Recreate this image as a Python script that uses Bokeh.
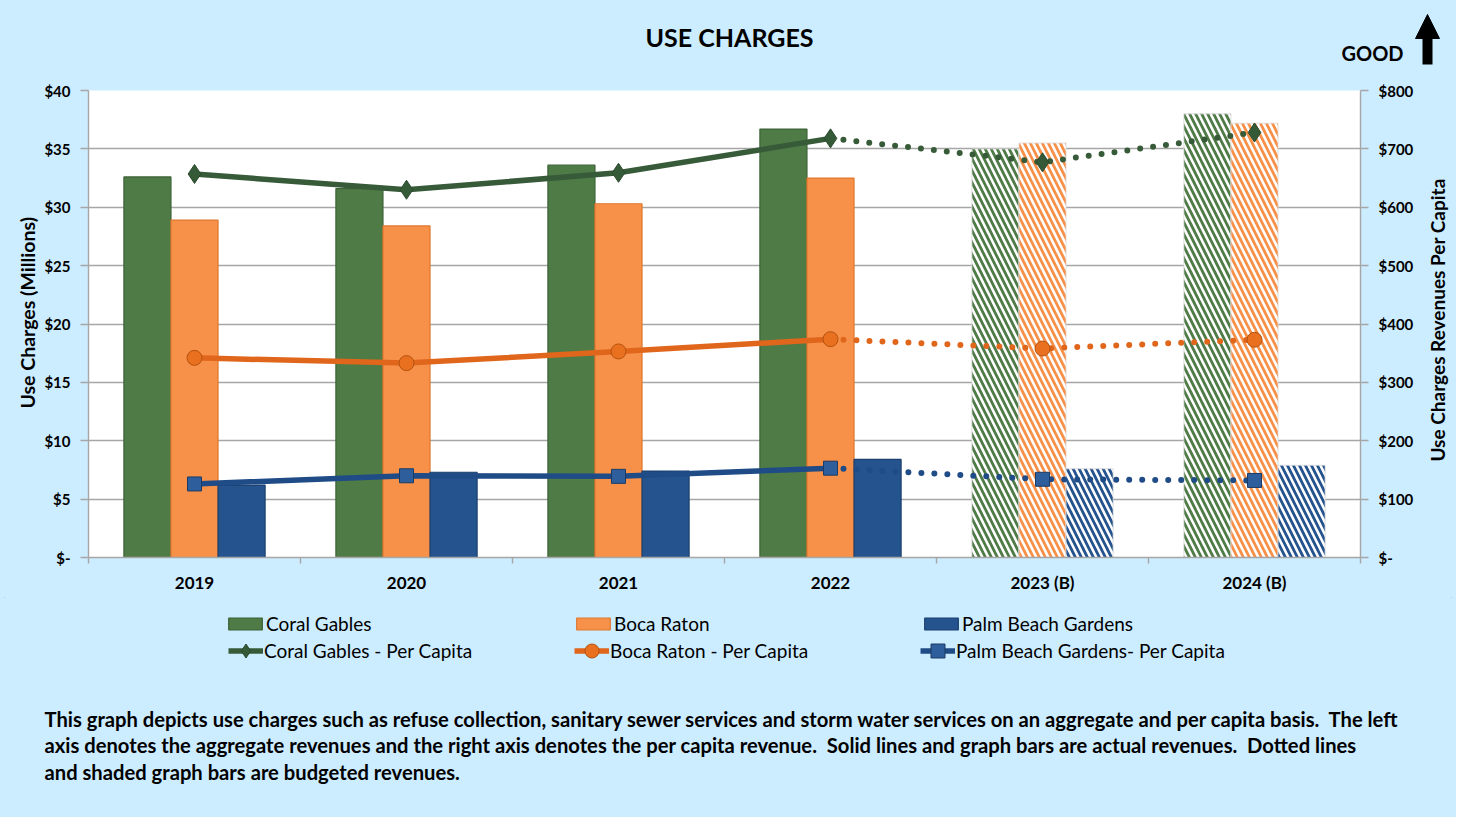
from bokeh.plotting import figure
from bokeh.layouts import column, row
from bokeh.models import (Range1d, LinearAxis, FixedTicker, Label,
                          Legend, LegendItem, Arrow, NormalHead, ColumnDataSource)
from bokeh.transform import dodge
from bokeh.embed import file_html
from bokeh.resources import INLINE

# ---------------- data ----------------
years = ["2019", "2020", "2021", "2022", "2023 (B)", "2024 (B)"]
n_actual = 4  # 2019-2022 actual, 2023-2024 budgeted

coral_gables = [32.6, 31.6, 33.6, 36.7, 35.0, 38.0]          # $ millions
boca_raton = [28.9, 28.4, 30.3, 32.5, 35.5, 37.2]
palm_beach_gardens = [6.2, 7.3, 7.4, 8.4, 7.6, 7.9]

coral_gables_pc = [657, 630, 659, 718, 677, 728]              # $ per capita
boca_raton_pc = [342, 333, 353, 374, 358, 373]
palm_beach_gardens_pc = [126, 140, 139, 153, 134, 132]

left_ticks = [0, 5, 10, 15, 20, 25, 30, 35, 40]
left_labels = ["$-", "$5", "$10", "$15", "$20", "$25", "$30", "$35", "$40"]
right_ticks = [0, 100, 200, 300, 400, 500, 600, 700, 800]
right_labels = ["$-", "$100", "$200", "$300", "$400", "$500", "$600", "$700", "$800"]

series_names = ["Coral Gables", "Boca Raton", "Palm Beach Gardens"]
pc_names = ["Coral Gables - Per Capita", "Boca Raton - Per Capita", "Palm Beach Gardens- Per Capita"]

title_text = "USE CHARGES"
left_title = "Use Charges (Millions)"
right_title = "Use Charges Revenues Per Capita"
NB2 = "\u00a0 "  # double space kept visible
caption = [
    "This graph depicts use charges such as refuse collection, sanitary sewer services and storm water services on an aggregate and per capita basis." + NB2 + "The left",
    "axis denotes the aggregate revenues and the right axis denotes the per capita revenue." + NB2 + "Solid lines and graph bars are actual revenues." + NB2 + "Dotted lines",
    "and shaded graph bars are budgeted revenues.",
]

# category positions on a numeric scale: each year is one unit wide
centers = [i + 0.5 for i in range(len(years))]
edges = list(range(len(years) + 1))

# ---------------- style / layout ----------------
FONT = "Lato"
BG = "#CCECFF"
GRID = "#A6A6A6"
GREEN, GREEN_EDGE = "#4F7B47", "#3C6236"
ORANGE, ORANGE_EDGE = "#F7914A", "#E0782E"
BLUE, BLUE_EDGE = "#25538E", "#1B3F6E"
CG_LINE, BR_LINE, PB_LINE = "#375B39", "#E0661C", "#1F4C86"
BW = 0.222

TW, TH = 1456, 817          # whole page
TOP_H = 78                  # title strip
L_W = 40                    # left title strip
R_W = 36                    # right title strip
M_W = TW - L_W - R_W        # main chart
M_TOP, M_LEFT, M_RIGHT, M_BOTTOM = 12, 88 - L_W, 60, 40
FRAME_H = 467
M_H = M_TOP + FRAME_H + M_BOTTOM
BOT_H = TH - TOP_H - M_H
BOT_Y0 = TOP_H + M_H        # page y where bottom strip starts


def strip(w, h):
    f = figure(width=w, height=h, x_range=Range1d(0, w), y_range=Range1d(h, 0),
               x_axis_location=None, y_axis_location=None, min_border=0,
               output_backend="svg", toolbar_location=None)
    f.grid.visible = False
    f.outline_line_color = None
    f.background_fill_color = BG
    f.border_fill_color = BG
    return f


def label(f, x, y, s, size, align="left", bold=True, angle=0):
    f.add_layout(Label(x=x, y=y, text=s, text_font=FONT, text_font_size=size,
                       text_font_style="bold" if bold else "normal", text_color="black",
                       text_align=align, text_baseline="middle", angle=angle, angle_units="deg"))


# ---------------- top strip: title, GOOD arrow ----------------
top = strip(TW, TOP_H)
label(top, 729, 36, title_text, "25px", align="center")
label(top, 1403, 52, "GOOD", "20px", align="right")
top.add_layout(Arrow(x_start=1427, y_start=64, x_end=1427, y_end=14,
                     line_width=10, line_color="black",
                     end=NormalHead(size=24, fill_color="black", line_color="black")))

# ---------------- main chart ----------------
p = figure(x_range=Range1d(0, len(years)), y_range=Range1d(0, 40),
           width=M_W, height=M_H, output_backend="svg", toolbar_location=None,
           min_border_left=M_LEFT, min_border_right=M_RIGHT,
           min_border_top=M_TOP, min_border_bottom=M_BOTTOM)
p.background_fill_color = "white"
p.border_fill_color = BG
p.outline_line_color = None
p.xgrid.visible = False
p.ygrid.grid_line_color = GRID
p.ygrid.grid_line_width = 1.4

# left axis
ya = p.yaxis[0]
ya.ticker = FixedTicker(ticks=left_ticks)
ya.major_label_overrides = {t: l for t, l in zip(left_ticks, left_labels)}
ya.axis_line_color = GRID
ya.axis_line_width = 1.4
ya.major_tick_line_color = GRID
ya.major_tick_line_width = 1.4
ya.major_tick_out = 8
ya.major_tick_in = 0
ya.minor_tick_line_color = None
ya.major_label_standoff = 10
ya.major_label_text_font = FONT
ya.major_label_text_font_style = "bold"
ya.major_label_text_font_size = "15px"
ya.major_label_text_color = "black"

# right axis
p.extra_y_ranges = {"pc": Range1d(0, 800)}
ra = LinearAxis(y_range_name="pc", ticker=FixedTicker(ticks=right_ticks),
                major_label_overrides={t: l for t, l in zip(right_ticks, right_labels)})
ra.axis_line_color = GRID
ra.axis_line_width = 1.4
ra.major_tick_line_color = GRID
ra.major_tick_line_width = 1.4
ra.major_tick_out = 8
ra.major_tick_in = 0
ra.minor_tick_line_color = None
ra.major_label_standoff = 10
ra.major_label_text_font = FONT
ra.major_label_text_font_style = "bold"
ra.major_label_text_font_size = "15px"
ra.major_label_text_color = "black"
p.add_layout(ra, "right")

# bottom axis: year labels at centres, tick marks at group edges
xa = p.xaxis[0]
xa.ticker = FixedTicker(ticks=centers, minor_ticks=edges)
xa.major_label_overrides = {c: y for c, y in zip(centers, years)}
xa.axis_line_color = GRID
xa.axis_line_width = 1.4
xa.major_tick_line_color = None
xa.major_tick_out = 0
xa.major_tick_in = 0
xa.minor_tick_line_color = GRID
xa.minor_tick_line_width = 1.4
xa.minor_tick_out = 6
xa.minor_tick_in = 0
xa.major_label_standoff = 8
xa.major_label_text_font = FONT
xa.major_label_text_font_style = "bold"
xa.major_label_text_font_size = "17px"
xa.major_label_text_color = "black"

# bars
src_a = ColumnDataSource(dict(x=centers[:n_actual], cg=coral_gables[:n_actual],
                              br=boca_raton[:n_actual], pb=palm_beach_gardens[:n_actual]))
src_b = ColumnDataSource(dict(x=centers[n_actual:], cg=coral_gables[n_actual:],
                              br=boca_raton[n_actual:], pb=palm_beach_gardens[n_actual:]))

bar_specs = [("cg", -BW, GREEN, GREEN_EDGE), ("br", 0.0, ORANGE, ORANGE_EDGE), ("pb", BW, BLUE, BLUE_EDGE)]
for col, off, fc, lc in bar_specs:
    p.vbar(x=dodge("x", off), top=col, width=BW, source=src_a,
           fill_color=fc, line_color=lc, line_width=1.2)
    p.vbar(x=dodge("x", off), top=col, width=BW, source=src_b,
           fill_color="white", line_color="#D8D8D8", line_width=0.8,
           hatch_pattern="\\", hatch_color=fc, hatch_weight=2.8, hatch_scale=12)

# per-capita lines
src_la = ColumnDataSource(dict(x=centers[:n_actual], cg=coral_gables_pc[:n_actual],
                               br=boca_raton_pc[:n_actual], pb=palm_beach_gardens_pc[:n_actual]))
src_lb = ColumnDataSource(dict(x=centers[n_actual - 1:], cg=coral_gables_pc[n_actual - 1:],
                               br=boca_raton_pc[n_actual - 1:], pb=palm_beach_gardens_pc[n_actual - 1:]))
src_all = ColumnDataSource(dict(x=centers, cg=coral_gables_pc, br=boca_raton_pc, pb=palm_beach_gardens_pc))

line_specs = [
    ("cg", CG_LINE, "diamond", 19, "#355A37", "#2A4A2C"),
    ("br", BR_LINE, "circle", 15, "#E8701E", "#B4520F"),
    ("pb", PB_LINE, "square", 14, "#2E5E9C", "#1A3B66"),
]
for col, lc, mk, sz, mfc, mlc in line_specs:
    p.line(x="x", y=col, source=src_la, y_range_name="pc", line_color=lc,
           line_width=5.5, line_join="round")
    p.line(x="x", y=col, source=src_lb, y_range_name="pc", line_color=lc,
           line_width=6, line_dash="0 13", line_cap="round")
    p.scatter(x="x", y=col, source=src_all, y_range_name="pc", marker=mk, size=sz,
              fill_color=mfc, line_color=mlc, line_width=1)

# ---------------- side strips: axis titles ----------------
lstrip = strip(L_W, M_H)
label(lstrip, 27, 325 - TOP_H, left_title, "19.5px", align="center", angle=90)
rstrip = strip(R_W, M_H)
label(rstrip, 17, 333 - TOP_H, right_title, "19px", align="center", angle=90)

# ---------------- bottom strip: legend + caption ----------------
bot = strip(TW, BOT_H)
# legend swatches styled like the chart's series (a single NaN row: nothing is drawn in the strip)
NAN = float("nan")
bar_keys, line_keys = [], []
for (col, off, fc, lc) in bar_specs:
    bar_keys.append(bot.vbar(x=[NAN], top=[NAN], width=1, fill_color=fc, line_color=lc, line_width=1.2))
for (col, lc, mk, sz, mfc, mlc) in line_specs:
    ln = bot.line(x=[NAN, NAN], y=[NAN, NAN], line_color=lc, line_width=5.5)
    mkr = bot.scatter(x=[NAN], y=[NAN], marker=mk, size=sz, fill_color=mfc, line_color=mlc, line_width=1)
    line_keys.append([ln, mkr])

common = dict(orientation="horizontal", ncols=3, spacing=0, padding=0, margin=0,
              background_fill_alpha=0, border_line_color=None, label_height=27,
              label_text_font=FONT, label_text_font_size="19px", label_text_color="black")
legend_bars = Legend(items=[LegendItem(label=n, renderers=[r]) for n, r in zip(series_names, bar_keys)],
                     location=(224, BOT_H - (636.5 - BOT_Y0)),
                     glyph_width=42, glyph_height=15, label_standoff=-2, label_width=306, **common)
legend_lines = Legend(items=[LegendItem(label=n, renderers=rs) for n, rs in zip(pc_names, line_keys)],
                      location=(228, BOT_H - (667.5 - BOT_Y0)),
                      glyph_width=35, glyph_height=35, label_standoff=1, label_width=310, **common)
bot.add_layout(legend_bars)
bot.add_layout(legend_lines)

for i, line in enumerate(caption):
    label(bot, 44, 718 + i * 26.5 - BOT_Y0, line, "20.2px")

page = column(top, row(lstrip, p, rstrip, styles={"background-color": BG}),
              bot, styles={"background-color": BG, "outline": "1px solid #A0A0A0",
                           "outline-offset": "-5px"})
open("out.html", "w").write(file_html(page, INLINE))
